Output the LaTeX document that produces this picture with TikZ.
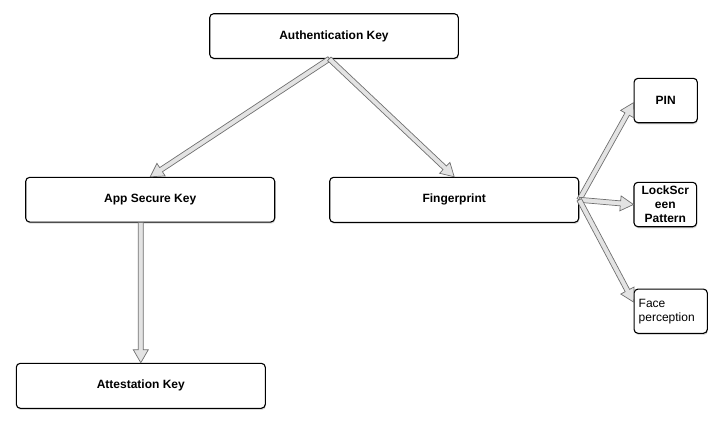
\documentclass[tikz,border=0pt]{standalone}
\usepackage{fontspec}
\setmainfont{Liberation Sans}
\usetikzlibrary{calc,shadows}
\definecolor{arrfill}{HTML}{E3E3E3}
\definecolor{arrline}{HTML}{707070}
\tikzset{
  box/.style={draw=black, line width=1.1pt, rounded corners=4pt, fill=white,
    drop shadow={shadow xshift=0.6pt, shadow yshift=-1.6pt, opacity=0.3},
    inner sep=0pt, align=center, font=\fontsize{12}{14}\selectfont\bfseries},
  barrow/.style={draw=arrline, fill=arrfill, line width=0.7pt, line join=miter}
}
\newcommand{\blockarrow}[2]{%
  \coordinate (ba-s) at #1;
  \coordinate (ba-e) at #2;
  \coordinate (ba-c) at ($(ba-e)!13pt!(ba-s)$);
  \draw[barrow] ($(ba-s)!2.5pt!90:(ba-e)$) -- ($(ba-c)!2.5pt!-90:(ba-s)$)
    -- ($(ba-c)!7.5pt!-90:(ba-s)$) -- (ba-e) -- ($(ba-c)!7.5pt!90:(ba-s)$)
    -- ($(ba-c)!2.5pt!90:(ba-s)$) -- ($(ba-s)!2.5pt!-90:(ba-e)$) -- cycle;
}
\begin{document}
\begin{tikzpicture}[x=1pt, y=-1pt]
\useasboundingbox (0,0) rectangle (725,426);
\node[box, minimum width=248.6pt, minimum height=44.6pt] (auth) at (334,36) {Authentication Key};
\node[box, minimum width=249pt, minimum height=44.7pt] (app) at (150.2,199.7) {App Secure Key};
\node[box, minimum width=249pt, minimum height=45pt] (finger) at (454.2,199.8) {Fingerprint};
\node[box, minimum width=249pt, minimum height=45pt] (attest) at (140.8,385.8) {Attestation Key};
\node[box, minimum width=63.3pt, minimum height=44.4pt] (pin) at (665.7,100.5) {PIN};
\node[box, minimum width=62.7pt, minimum height=44.4pt] (lock) at (665.3,204.5) {LockScr\\een\\Pattern};
\node[box, minimum width=73.3pt, minimum height=44.3pt, align=left, font=\fontsize{12}{14}\selectfont, text width=64pt] (face) at (670.7,311.2) {Face\\perception};

\blockarrow{($(auth.south)+(-4.7,0)$)}{(app.north)}
\blockarrow{($(auth.south)+(-4.7,0)$)}{(finger.north)}
\blockarrow{(attest.north |- app.south)}{(attest.north)}
\blockarrow{(finger.east)}{($(pin.west)+(0,2.2)$)}
\blockarrow{(finger.east)}{(lock.west)}
\blockarrow{(finger.east)}{($(face.west)+(0,-9.2)$)}
\end{tikzpicture}
\end{document}
